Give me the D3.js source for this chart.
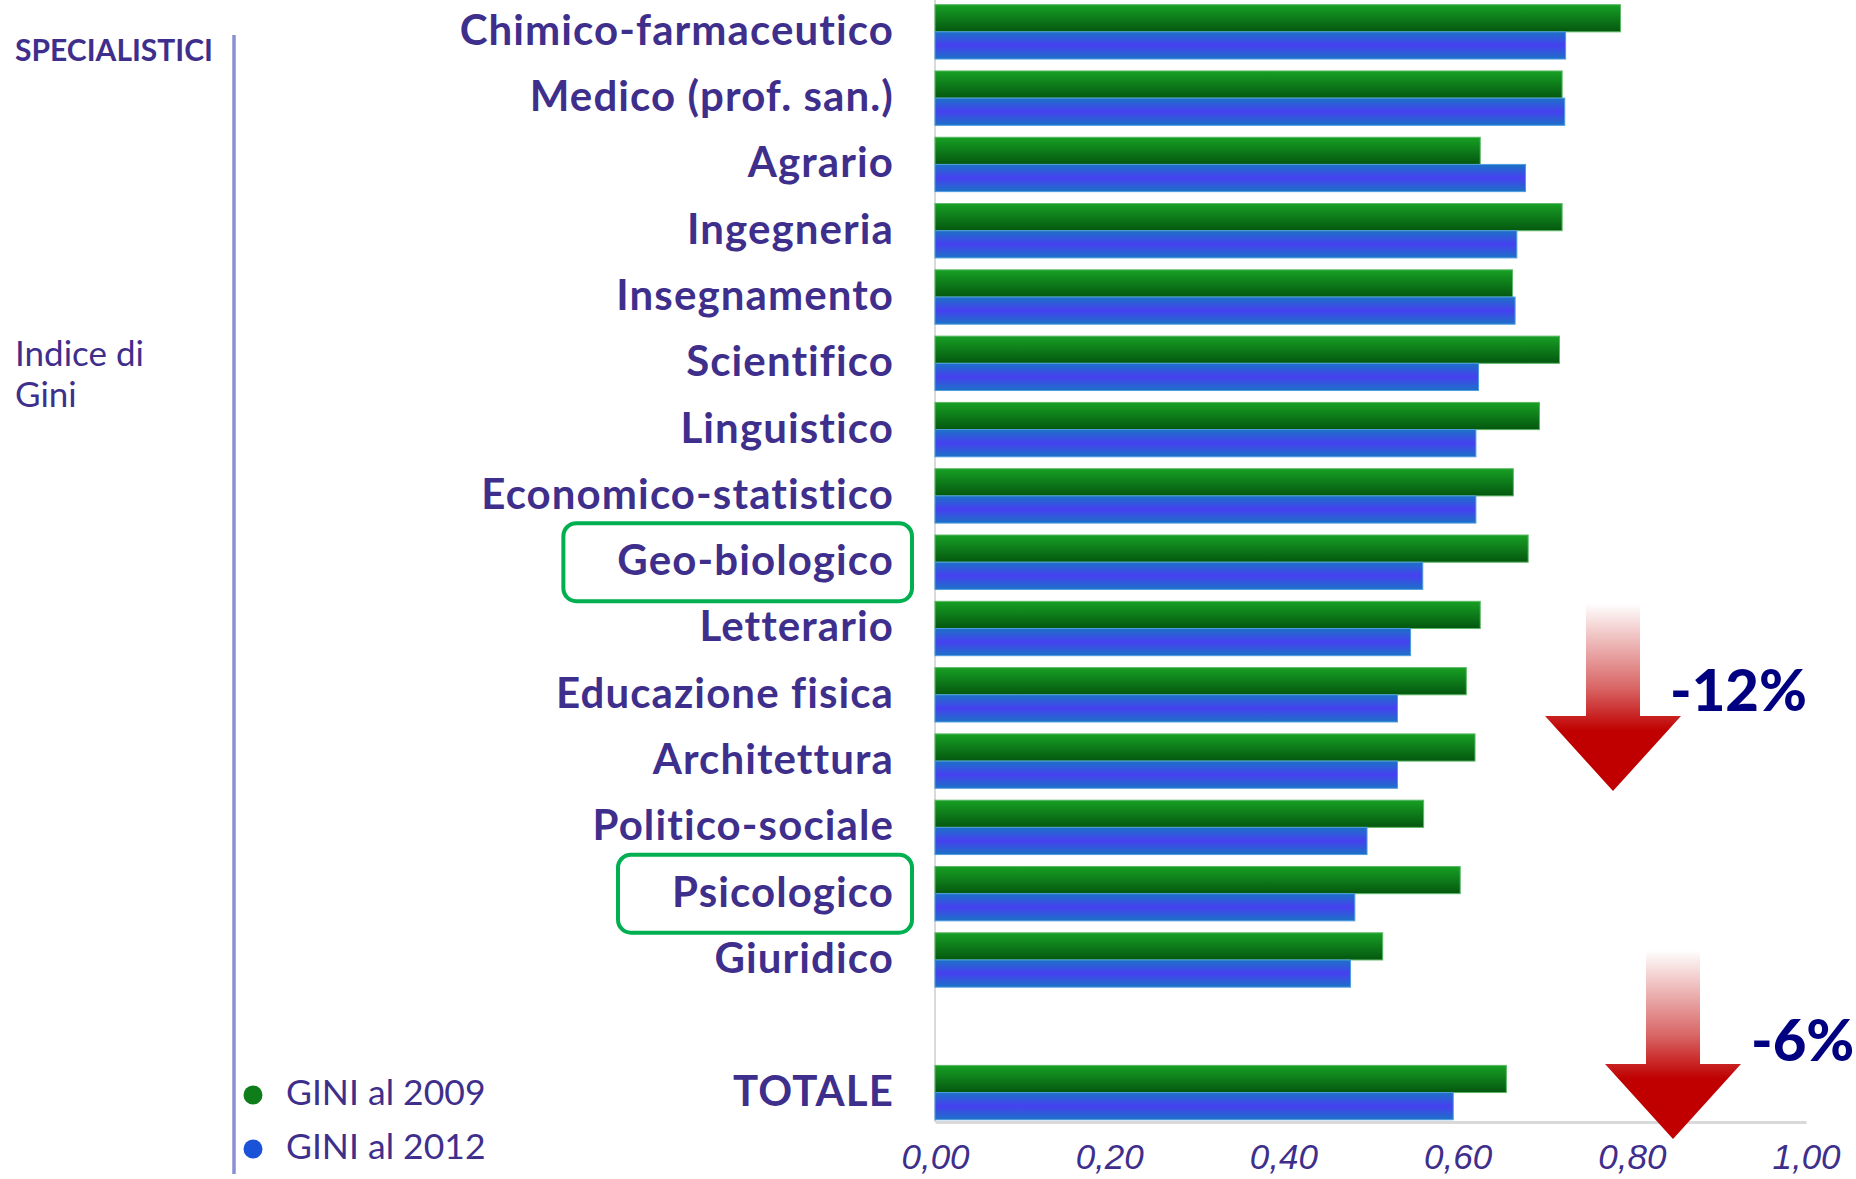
<!DOCTYPE html>
<html>
<head>
    <title>Indice di Gini</title>
    <style>
        body { margin: 0; background: #fff; }
        svg { display: block; }
    </style>
</head>
<body>
    <script src="https://d3js.org/d3.v7.min.js"></script>
    <script>
        // Gini index per group, 2009 vs 2012
        const categories = [
            'Chimico-farmaceutico', 'Medico (prof. san.)', 'Agrario', 'Ingegneria',
            'Insegnamento', 'Scientifico', 'Linguistico', 'Economico-statistico',
            'Geo-biologico', 'Letterario', 'Educazione fisica', 'Architettura',
            'Politico-sociale', 'Psicologico', 'Giuridico', 'TOTALE'
        ];
        const gini2009 = [0.787, 0.720, 0.626, 0.720, 0.663, 0.717, 0.694, 0.664,
                          0.681, 0.626, 0.610, 0.620, 0.561, 0.603, 0.514, 0.656];
        const gini2012 = [0.724, 0.723, 0.678, 0.668, 0.666, 0.624, 0.621, 0.621,
                          0.560, 0.546, 0.531, 0.531, 0.496, 0.482, 0.477, 0.595];
        const seriesNames = ['GINI al 2009', 'GINI al 2012'];
        const xTicks = [0, 0.2, 0.4, 0.6, 0.8, 1.0];
        const highlighted = ['Geo-biologico', 'Psicologico'];
        const changes = ['-12%', '-6%'];

        const width = 1856;
        const height = 1179;
        const purple = '#3f2f8c';

        const svg = d3.select('body')
            .append('svg')
            .attr('width', width)
            .attr('height', height);

        const defs = svg.append('defs');

        const gGreen = defs.append('linearGradient').attr('id', 'gGreen')
            .attr('x1', 0).attr('y1', 0).attr('x2', 0).attr('y2', 1);
        gGreen.append('stop').attr('offset', '0%').attr('stop-color', '#17a024');
        gGreen.append('stop').attr('offset', '100%').attr('stop-color', '#04570f');

        const gBlue = defs.append('linearGradient').attr('id', 'gBlue')
            .attr('x1', 0).attr('y1', 0).attr('x2', 0).attr('y2', 1);
        gBlue.append('stop').attr('offset', '0%').attr('stop-color', '#1b72c6');
        gBlue.append('stop').attr('offset', '50%').attr('stop-color', '#4640f0');
        gBlue.append('stop').attr('offset', '100%').attr('stop-color', '#1b72c6');

        const gArrow = defs.append('linearGradient').attr('id', 'gArrow')
            .attr('x1', 0).attr('y1', 0).attr('x2', 0).attr('y2', 1);
        gArrow.append('stop').attr('offset', '0%').attr('stop-color', '#c00000').attr('stop-opacity', 0);
        gArrow.append('stop').attr('offset', '45%').attr('stop-color', '#c00000').attr('stop-opacity', 0.6);
        gArrow.append('stop').attr('offset', '68%').attr('stop-color', '#c00000').attr('stop-opacity', 1);
        gArrow.append('stop').attr('offset', '100%').attr('stop-color', '#c00000').attr('stop-opacity', 1);

        // scales
        const x = d3.scaleLinear().domain([0, 1]).range([935, 1806]);

        const slots = categories.slice(0, 15).concat(['__gap', 'TOTALE']);
        const y = d3.scaleBand()
            .domain(slots)
            .range([-1.3, 1125.7])
            .paddingInner(0.18)
            .paddingOuter(0.09);

        const ySub = d3.scaleBand()
            .domain(seriesNames)
            .range([0, y.bandwidth()]);

        const color = d3.scaleOrdinal().domain(seriesNames).range(['url(#gGreen)', 'url(#gBlue)']);
        const stroke = d3.scaleOrdinal().domain(seriesNames).range(['#5cb866', '#4f9be0']);

        const rows = categories.map((c, i) => ({
            name: c,
            values: [
                { series: seriesNames[0], value: gini2009[i] },
                { series: seriesNames[1], value: gini2012[i] }
            ]
        }));

        // axis lines
        const axisY = 1122;
        svg.append('line')
            .attr('x1', x(0)).attr('x2', x(0))
            .attr('y1', 0).attr('y2', axisY)
            .attr('stroke', '#d9d9d9').attr('stroke-width', 2);

        // bars
        const groups = svg.selectAll('g.row')
            .data(rows)
            .enter()
            .append('g')
            .attr('class', 'row')
            .attr('transform', d => `translate(0,${y(d.name)})`);

        groups.selectAll('rect')
            .data(d => d.values)
            .enter()
            .append('rect')
            .attr('x', x(0))
            .attr('y', d => ySub(d.series))
            .attr('width', d => x(d.value) - x(0))
            .attr('height', ySub.bandwidth())
            .attr('fill', d => color(d.series))
            .attr('stroke', d => stroke(d.series))
            .attr('stroke-width', 1);

        // x axis
        const xAxis = svg.append('g')
            .attr('transform', `translate(0,${axisY})`)
            .call(d3.axisBottom(x)
                .tickValues(xTicks)
                .tickSize(0)
                .tickFormat(d => d.toFixed(2).replace('.', ',')));
        xAxis.select('.domain')
            .attr('stroke', '#d9d9d9')
            .attr('stroke-width', 3);
        xAxis.selectAll('text')
            .attr('y', 47)
            .attr('dy', 0)
            .attr('fill', purple)
            .style('font-family', '"Liberation Sans Narrow", "Liberation Sans", sans-serif')
            .style('font-stretch', 'condensed')
            .style('font-style', 'italic')
            .style('font-size', '35px');

        // category labels
        const labels = svg.selectAll('text.cat')
            .data(rows)
            .enter()
            .append('text')
            .attr('class', 'cat')
            .attr('x', 894)
            .attr('y', d => y(d.name) + y.bandwidth() / 2 + 13)
            .attr('text-anchor', 'end')
            .attr('fill', purple)
            .style('font-family', 'Lato, sans-serif')
            .style('font-weight', 'bold')
            .style('font-size', '42px')
            .style('letter-spacing', '1.1px')
            .style('font-variant-ligatures', 'none')
            .text(d => d.name);

        // highlight boxes
        labels.filter(d => highlighted.includes(d.name)).each(function (d) {
            const b = this.getBBox();
            const cy = y(d.name) + y.bandwidth() / 2;
            svg.append('rect')
                .attr('x', b.x - 54)
                .attr('y', cy - 39)
                .attr('width', 912 - (b.x - 54))
                .attr('height', 78)
                .attr('rx', 13)
                .attr('fill', 'none')
                .attr('stroke', '#00b050')
                .attr('stroke-width', 4);
        });

        // change arrows
        const arrowGeom = [
            { cx: 1613, top: 603, headTop: 716, tip: 791, tx: 1670, ty: 711 },
            { cx: 1673, top: 950, headTop: 1064, tip: 1139, tx: 1751, ty: 1061 }
        ];
        changes.forEach((label, i) => {
            const a = arrowGeom[i];
            const sw = 27, hw = 68;
            const p = d3.path();
            p.moveTo(a.cx - sw, a.top);
            p.lineTo(a.cx + sw, a.top);
            p.lineTo(a.cx + sw, a.headTop);
            p.lineTo(a.cx + hw, a.headTop);
            p.lineTo(a.cx, a.tip);
            p.lineTo(a.cx - hw, a.headTop);
            p.lineTo(a.cx - sw, a.headTop);
            p.closePath();
            svg.append('path')
                .attr('d', p.toString())
                .attr('fill', 'url(#gArrow)');
            svg.append('text')
                .attr('x', a.tx)
                .attr('y', a.ty)
                .attr('fill', '#000080')
                .style('font-family', 'Lato, sans-serif')
                .style('font-weight', 900)
                .style('font-size', '58px')
                .text(label);
        });

        // left panel
        svg.append('line')
            .attr('x1', 234).attr('x2', 234)
            .attr('y1', 35).attr('y2', 1174)
            .attr('stroke', '#8b90d2').attr('stroke-width', 3.5);

        svg.append('text')
            .attr('x', 15).attr('y', 61)
            .attr('fill', purple)
            .style('font-family', 'Lato, sans-serif')
            .style('font-weight', 'bold')
            .style('font-size', '30px')
            .text('SPECIALISTICI');

        svg.append('text')
            .attr('x', 15).attr('y', 366)
            .attr('fill', purple)
            .style('font-family', 'Lato, sans-serif')
            .style('font-size', '35px')
            .selectAll('tspan')
            .data(['Indice di', 'Gini'])
            .enter()
            .append('tspan')
            .attr('x', 15)
            .attr('dy', (d, i) => i === 0 ? 0 : 41)
            .text(d => d);

        // legend
        const legendDot = ['#0f7d1a', '#1a52d8'];
        const legend = svg.selectAll('g.legend')
            .data(seriesNames)
            .enter()
            .append('g')
            .attr('class', 'legend')
            .attr('transform', (d, i) => `translate(253,${1095 + i * 54})`);
        legend.append('circle')
            .attr('r', 9.5)
            .attr('fill', (d, i) => legendDot[i]);
        legend.append('text')
            .attr('x', 33)
            .attr('y', 10)
            .attr('fill', purple)
            .style('font-family', 'Lato, sans-serif')
            .style('font-size', '35.5px')
            .text(d => d);
    </script>
</body>
</html>
